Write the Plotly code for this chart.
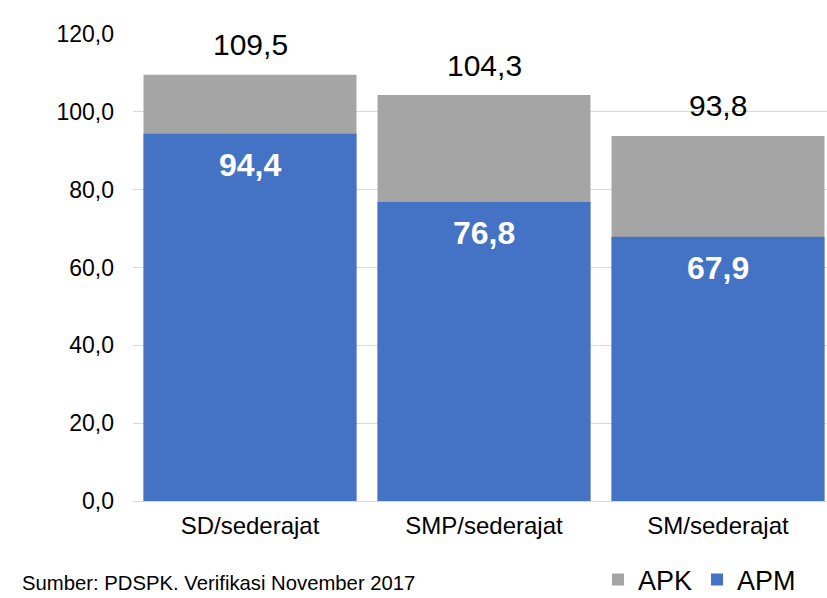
import plotly.graph_objects as go

categories = ["SD/sederajat", "SMP/sederajat", "SM/sederajat"]
apk = [109.5, 104.3, 93.8]
apm = [94.4, 76.8, 67.9]
y_ticks = [0, 20, 40, 60, 80, 100, 120]
source_text = "Sumber: PDSPK. Verifikasi November 2017"

FONT = "Liberation Sans, Arial, sans-serif"
GRAY = "#A5A5A5"
BLUE = "#4472C4"

def fmt(v):
    return f"{v:.1f}".replace(".", ",")

plot_left, plot_right, plot_top, plot_bottom = 133, 827, 34, 501
pw = plot_right - plot_left
ph = plot_bottom - plot_top

def px_x(x):
    return (x - plot_left) / pw

def px_y(y):
    return (plot_bottom - y) / ph

fig = go.Figure()
fig.add_trace(go.Bar(x=categories, y=apk, name="APK", marker=dict(color=GRAY, line=dict(width=0)),
                     hoverinfo="skip"))
fig.add_trace(go.Bar(x=categories, y=apm, name="APM", marker=dict(color=BLUE, line=dict(width=0)),
                     hoverinfo="skip"))

annotations = []
for c, v in zip(categories, apk):
    annotations.append(dict(x=c, y=v, xref="x", yref="y", text=fmt(v), showarrow=False,
                            yanchor="middle", yshift=30, font=dict(family=FONT, size=30, color="#000000")))
for c, v in zip(categories, apm):
    annotations.append(dict(x=c, y=v, xref="x", yref="y", text="<b>" + fmt(v) + "</b>", showarrow=False,
                            yanchor="middle", yshift=-31, font=dict(family=FONT, size=32, color="#FFFFFF")))
annotations.append(dict(x=px_x(20), y=px_y(583), xref="paper", yref="paper", text=source_text,
                        showarrow=False, xanchor="left", yanchor="middle",
                        font=dict(family=FONT, size=20.3, color="#000000")))

fig.update_layout(
    width=827, height=598,
    margin=dict(l=plot_left, r=827 - plot_right, t=plot_top, b=598 - plot_bottom, autoexpand=False),
    barmode="overlay",
    bargap=0.09,
    separators=",.",
    paper_bgcolor="white", plot_bgcolor="white",
    font=dict(family=FONT, color="#000000"),
    showlegend=True,
    legend=dict(orientation="h", x=px_x(598), xanchor="left", y=px_y(580), yanchor="middle",
                font=dict(family=FONT, size=27, color="#000000"), traceorder="normal",
                itemclick=False, itemdoubleclick=False, tracegroupgap=0, itemwidth=30),
    annotations=annotations,
    xaxis=dict(range=[-0.5, -0.5 + pw / 234.0], showgrid=False, showline=False, ticks="",
               tickfont=dict(family=FONT, size=24, color="#000000"), ticklabelstandoff=8),
    yaxis=dict(range=[0, 120], tickvals=y_ticks, tickformat=".1f", showgrid=True, gridcolor="#D9D9D9",
               gridwidth=1.3, zeroline=True, zerolinecolor="#D9D9D9", zerolinewidth=1.3, showline=False,
               ticks="", tickfont=dict(family=FONT, size=23, color="#000000"), ticklabelstandoff=18),
)

fig.write_html("out.html", config={"displayModeBar": False},
               post_script="document.body.style.margin='0';document.body.style.overflow='hidden';")
